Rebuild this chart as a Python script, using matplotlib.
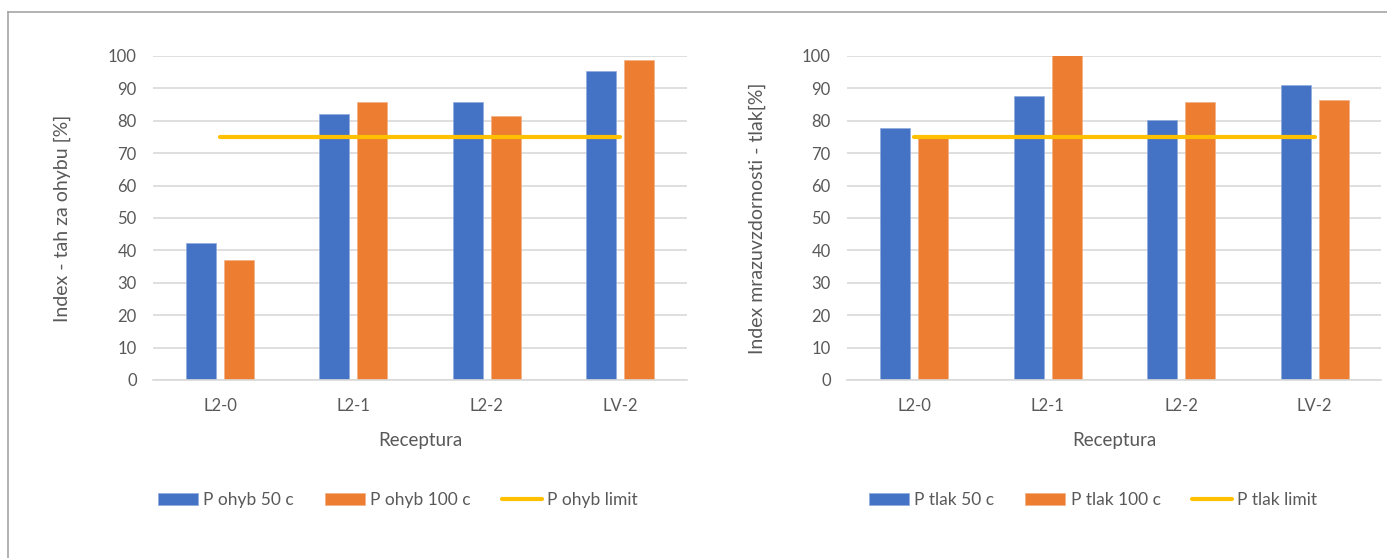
import matplotlib
matplotlib.use('Agg')
import matplotlib.pyplot as plt
from matplotlib.lines import Line2D
import numpy as np

# Data
categories = ['L2-0', 'L2-1', 'L2-2', 'LV-2']

ohyb_50 = [42.4, 82.0, 85.7, 95.5]
ohyb_100 = [36.9, 85.7, 81.6, 98.8]
ohyb_limit = [75, 75, 75, 75]

tlak_50 = [77.9, 87.8, 80.1, 90.9]
tlak_100 = [75.0, 100.2, 85.7, 86.3]
tlak_limit = [75, 75, 75, 75]

plt.rcParams['font.family'] = ['Lato', 'DejaVu Sans']

BLUE = '#4472C4'
ORANGE = '#ED7D31'
YELLOW = '#FFC000'
TEXT = '#595959'
GRID = '#D9D9D9'

fig = plt.figure(figsize=(13.87, 5.58), dpi=100)

# outer frame (top and left edge)
fig.add_artist(Line2D([8 / 1387, 1], [1 - 12 / 558, 1 - 12 / 558], color='#a5a5a5', lw=1.2,
                      transform=fig.transFigure))
fig.add_artist(Line2D([8 / 1387, 8 / 1387], [0, 1 - 12 / 558], color='#a5a5a5', lw=1.2,
                      transform=fig.transFigure))

ax1 = fig.add_axes([153.3 / 1387, 1 - 380 / 558, 533.4 / 1387, 324 / 558])
ax2 = fig.add_axes([847.3 / 1387, 1 - 380 / 558, 534 / 1387, 324 / 558])


def draw_panel(ax, s50, s100, limit, labels, ylabel, legend_x, ylabel_x):
    x = np.arange(len(categories))
    b1 = ax.bar(x - 0.1425, s50, width=0.225, color=BLUE, edgecolor='#8faadc', lw=0.5,
                label=labels[0], zorder=2)
    b2 = ax.bar(x + 0.1425, s100, width=0.225, color=ORANGE, edgecolor='#f4b183', lw=0.5,
                label=labels[1], zorder=2)
    ln, = ax.plot(x, limit, color=YELLOW, lw=3, solid_capstyle='round', label=labels[2], zorder=3)

    ax.set_xlim(-0.5, len(categories) - 0.5)
    ax.set_ylim(0, 100)
    ax.set_yticks(np.arange(0, 101, 10))
    ax.set_xticks(x)
    ax.set_xticklabels(categories)
    ax.grid(axis='y', color=GRID, lw=1.2, zorder=0)
    ax.set_axisbelow(True)
    for sp in ['top', 'right', 'left']:
        ax.spines[sp].set_visible(False)
    ax.spines['bottom'].set_color(GRID)
    ax.spines['bottom'].set_linewidth(1.2)
    ax.tick_params(axis='both', length=0, labelsize=12, labelcolor=TEXT)
    ax.tick_params(axis='y', pad=12)
    ax.tick_params(axis='x', pad=13)
    ax.set_xlabel('Receptura', fontsize=13.5, color=TEXT, labelpad=13)
    ax.set_ylabel(ylabel, fontsize=14, color=TEXT)
    ax.yaxis.set_label_coords(ylabel_x, 0.5, transform=fig.transFigure)

    fig.legend(handles=[b1, b2, ln], loc='center', bbox_to_anchor=(legend_x / 1387, 1 - 500 / 558),
               ncol=3, frameon=False, fontsize=12.5, labelcolor=TEXT,
               handlelength=2.3, handleheight=0.7, handletextpad=0.3, columnspacing=1.8)


draw_panel(ax1, ohyb_50, ohyb_100, ohyb_limit,
           ['P ohyb 50 c', 'P ohyb 100 c', 'P ohyb limit'],
           'Index - tah za ohybu [%]', 398, 62 / 1387)
draw_panel(ax2, tlak_50, tlak_100, tlak_limit,
           ['P tlak 50 c', 'P tlak 100 c', 'P tlak limit'],
           'Index mrazuvzdornosti - tlak[%]', 1093, 757 / 1387)

# keep the y labels centred on the plot height
for ax in (ax1, ax2):
    ax.yaxis.label.set_va('center')
    x_fig = ax.yaxis.label.get_position()[0]
    ax.yaxis.set_label_coords(x_fig, 1 - 218 / 558, transform=fig.transFigure)

plt.savefig('out.png', dpi=100)
